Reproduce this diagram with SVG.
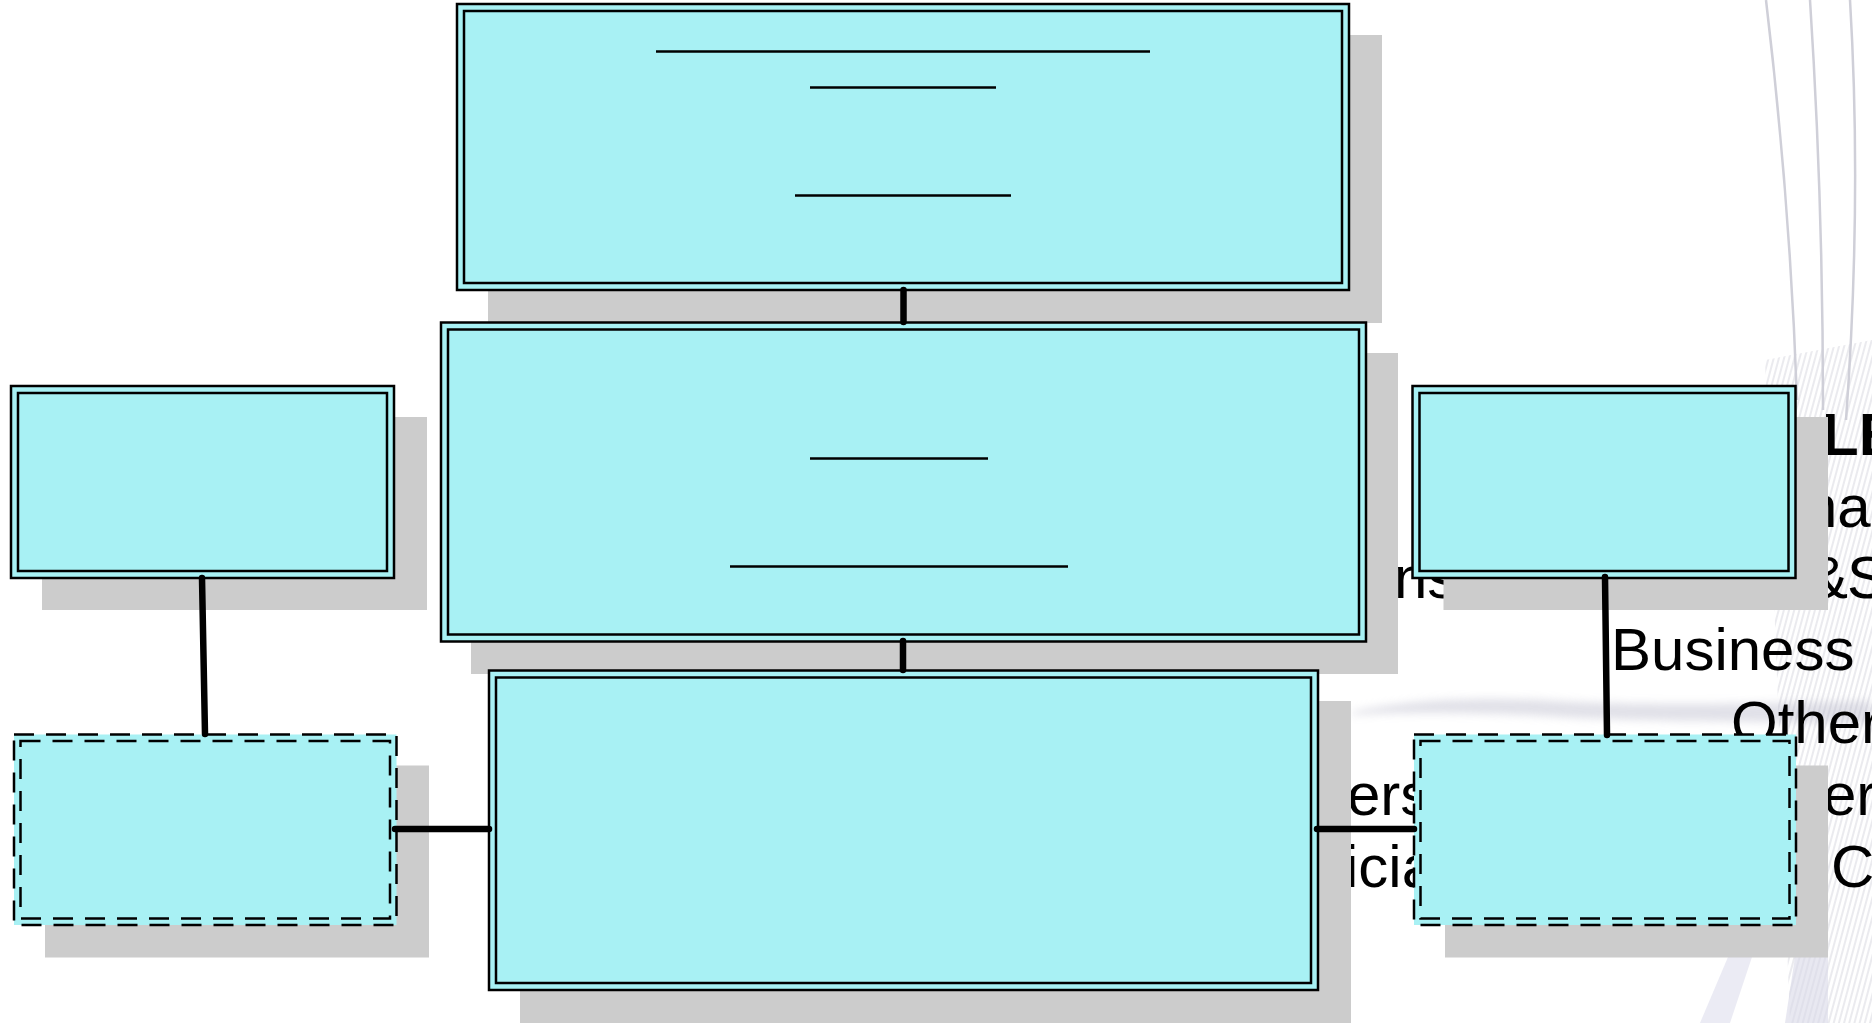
<svg xmlns="http://www.w3.org/2000/svg" width="1872" height="1023" viewBox="0 0 1872 1023">
<defs>
<style>
.shadow{fill:#cccccc}
.box{fill:#a8f1f4;stroke:#000;stroke-width:2.5}
.inner{fill:none;stroke:#000;stroke-width:2.5}
.dbox{fill:#a8f1f4;stroke:#000;stroke-width:2.5;stroke-dasharray:20 12}
.dinner{fill:none;stroke:#000;stroke-width:2.5;stroke-dasharray:20 12}
.ul{stroke:#000;stroke-width:2.5}
.conn{stroke:#000;stroke-width:6.5;stroke-linecap:round;fill:none}
.bg{font-family:"Liberation Sans",Arial,sans-serif;font-size:60px;fill:#000}
.arc{fill:none;stroke:#cfcfd8;stroke-width:2.5}
</style>
<pattern id="hatch" width="5" height="8" patternUnits="userSpaceOnUse" patternTransform="rotate(15)">
<line x1="1" y1="0" x2="1" y2="8" stroke="#c0c0cc" stroke-width="1.3"/>
</pattern>
<filter id="blur" x="-10%" y="-50%" width="120%" height="200%"><feGaussianBlur stdDeviation="4"/></filter>
</defs>
<rect x="0" y="0" width="1872" height="1023" fill="#ffffff"/>
<g id="background">
<path d="M1765,360 L1872,340 L1872,1023 L1790,1023 Z" fill="url(#hatch)" opacity="0.5"/>
<path class="arc" d="M1766,0 Q1790,200 1797,400"/>
<path class="arc" d="M1810,0 Q1823,200 1823,410"/>
<path class="arc" d="M1850,0 Q1862,200 1846,420"/>
<path d="M1352,712 C1400,700 1480,696 1560,701 C1650,706 1760,703 1872,701 L1872,724 C1760,721 1650,722 1560,717 C1480,712 1400,712 1352,715 Z" fill="#b4b4c6" opacity="0.4" filter="url(#blur)"/>
<path d="M1700,1023 L1728,957 L1752,957 L1730,1023 Z" fill="#e2e2f0" opacity="0.7"/>
<path d="M1785,1023 L1795,957 L1828,957 L1828,1023 Z" fill="#d8d8e8" opacity="0.6"/>
<text class="bg" x="1822" y="455" font-weight="bold">LE</text>
<text class="bg" x="1804" y="527">na</text>
<text class="bg" x="1808" y="598">&amp;</text>
<text class="bg" x="1847" y="598">S</text>
<text class="bg" x="1394" y="598">ns</text>
<text class="bg" x="1611" y="670">Business</text>
<text class="bg" x="1731" y="743">Other</text>
<text class="bg" x="1347" y="815">ers</text>
<text class="bg" x="1823" y="815">er</text>
<text class="bg" x="1345" y="887">icia</text>
<text class="bg" x="1831" y="887">C</text>
</g>
<g id="node-top">
<rect class="shadow" x="488" y="35" width="894" height="288"/>
<rect class="box" x="457" y="4" width="892" height="286"/>
<rect class="inner" x="464" y="11" width="878" height="272"/>
<line class="ul" x1="656" y1="51.5" x2="1150" y2="51.5" stroke-width="3.5"/>
<line class="ul" x1="810" y1="87.5" x2="996" y2="87.5"/>
<line class="ul" x1="795" y1="195.5" x2="1011" y2="195.5"/>
</g>
<g id="node-middle">
<rect class="shadow" x="471" y="353" width="927" height="321"/>
<rect class="box" x="441" y="322.5" width="925" height="319"/>
<rect class="inner" x="448" y="329.5" width="911" height="305"/>
<line class="ul" x1="810" y1="458.5" x2="988" y2="458.5"/>
<line class="ul" x1="730" y1="566.5" x2="1068" y2="566.5"/>
</g>
<g id="node-bottom">
<rect class="shadow" x="520" y="701" width="831" height="322"/>
<rect class="box" x="489" y="670.5" width="829" height="319.5"/>
<rect class="inner" x="496" y="677.5" width="815" height="305.5"/>
</g>
<g id="node-left-top">
<rect class="shadow" x="42" y="417" width="385" height="193"/>
<rect class="box" x="11" y="386" width="383" height="192"/>
<rect class="inner" x="18" y="393" width="369" height="178"/>
</g>
<g id="node-left-bottom">
<rect class="shadow" x="45" y="765.5" width="384" height="192"/>
<rect class="dbox" x="14" y="734.5" width="382.5" height="190.5"/>
<rect class="dinner" x="20.5" y="741" width="369.5" height="177.5"/>
</g>
<g id="node-right-top">
<rect class="shadow" x="1443.5" y="417" width="384.5" height="193"/>
<rect class="box" x="1412.5" y="386" width="383" height="192"/>
<rect class="inner" x="1419.5" y="393" width="369" height="178"/>
</g>
<g id="node-right-bottom">
<rect class="shadow" x="1445" y="765.5" width="383" height="192"/>
<rect class="dbox" x="1414" y="734.5" width="382" height="190.5"/>
<rect class="dinner" x="1420.5" y="741" width="369" height="177.5"/>
</g>
<g id="connectors">
<line class="conn" x1="903.5" y1="290" x2="903.5" y2="322"/>
<line class="conn" x1="903" y1="641" x2="903" y2="670"/>
<line class="conn" x1="202" y1="578" x2="205" y2="734"/>
<line class="conn" x1="1605" y1="577" x2="1607" y2="735"/>
<line class="conn" x1="395" y1="829" x2="489" y2="829"/>
<line class="conn" x1="1317" y1="829" x2="1414" y2="829"/>
</g>
</svg>
